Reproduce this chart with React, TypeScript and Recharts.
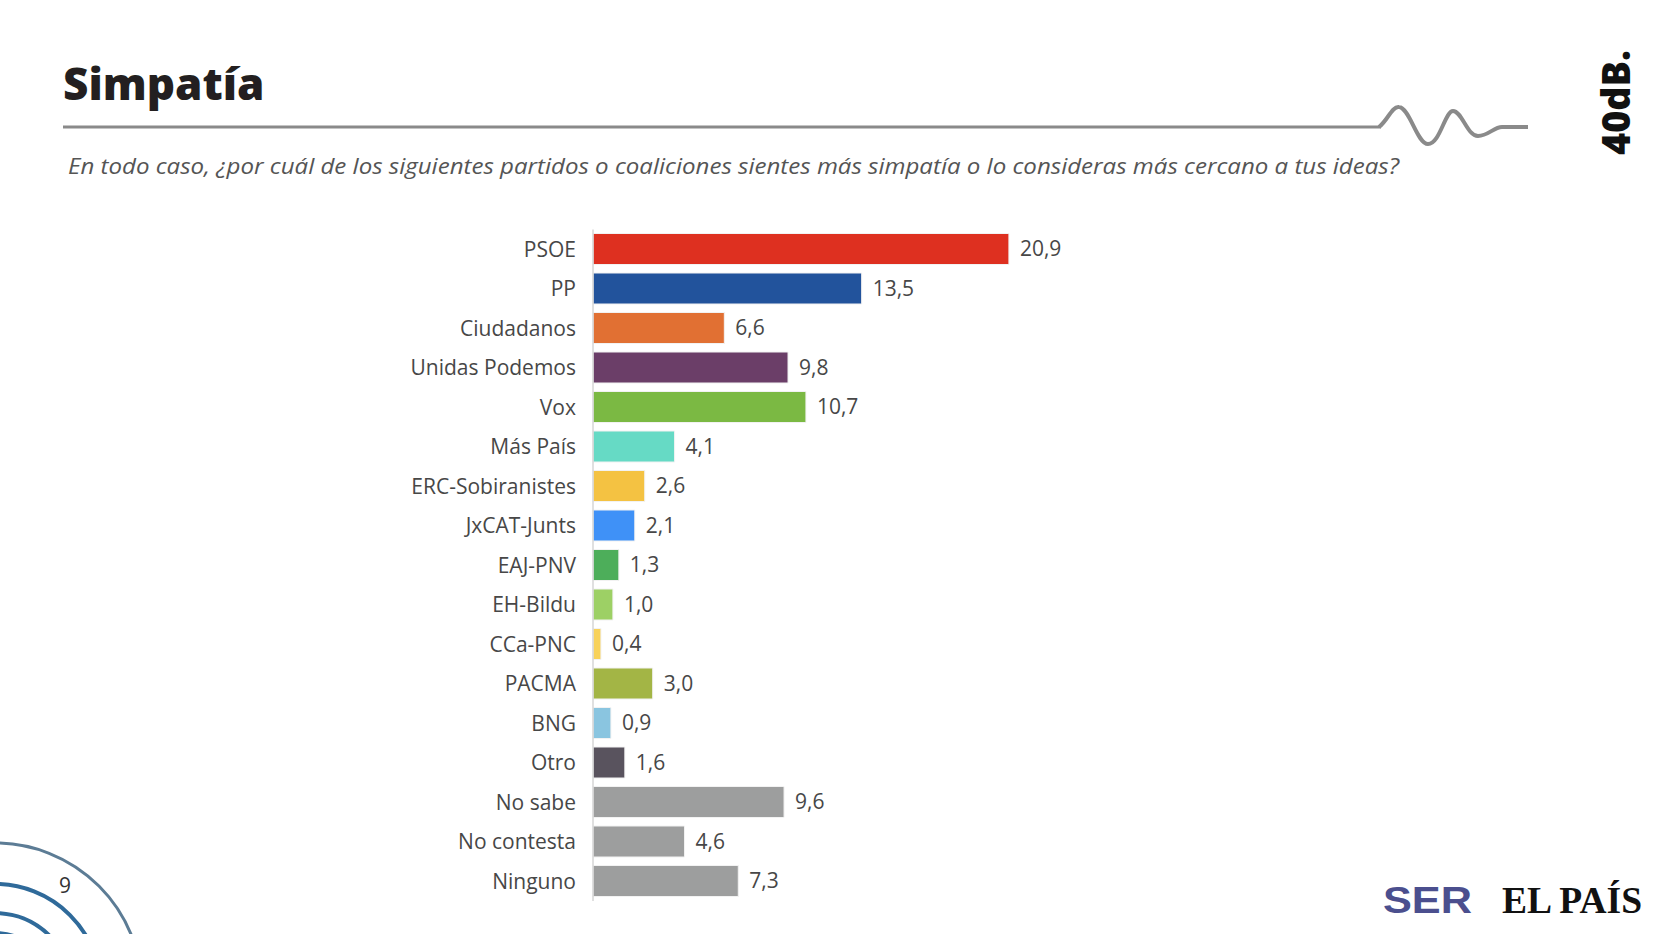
import React from 'react'
import { Bar, BarChart, Cell, LabelList, XAxis, YAxis } from 'recharts'

const parties = [
  'PSOE',
  'PP',
  'Ciudadanos',
  'Unidas Podemos',
  'Vox',
  'Más País',
  'ERC-Sobiranistes',
  'JxCAT-Junts',
  'EAJ-PNV',
  'EH-Bildu',
  'CCa-PNC',
  'PACMA',
  'BNG',
  'Otro',
  'No sabe',
  'No contesta',
  'Ninguno',
]

const values = [20.9, 13.5, 6.6, 9.8, 10.7, 4.1, 2.6, 2.1, 1.3, 1.0, 0.4, 3.0, 0.9, 1.6, 9.6, 4.6, 7.3]

const colors = [
  '#de3020',
  '#22539c',
  '#e17033',
  '#6b3e68',
  '#7bb943',
  '#66dac5',
  '#f4c242',
  '#3f91f7',
  '#4dae5a',
  '#9dd065',
  '#f8d25a',
  '#a3b545',
  '#8ac5e0',
  '#59535e',
  '#9d9e9e',
  '#9d9e9e',
  '#9d9e9e',
]

const data = parties.map((name, i) => ({ name, value: values[i] }))

const font = '"Open Sans", sans-serif'
const textColor = '#474747'

const fmt = (v: any) => Number(v).toFixed(1).replace('.', ',')

function Decorations() {
  return (
    <svg
      width={1668}
      height={934}
      style={{ position: 'absolute', left: 0, top: 0 }}
    >
      <text x={63} y={100} fontFamily={font} fontWeight={800} fontSize={44} fill='#231f20'>
        Simpatía
      </text>
      <line x1={63} y1={127} x2={1381} y2={127} stroke='#8a8a8a' strokeWidth={3} />
      <path
        d='M1379 127 C1388 120 1392 106 1399 107 C1410 108 1417 144 1428 144 C1440 144 1445 111 1453 111 C1462 111 1467 136 1478 136 C1488 136 1494 127 1502 127 L1528 127'
        fill='none'
        stroke='#8a8a8a'
        strokeWidth={4}
      />
      <text
        x={68}
        y={174}
        fontFamily={font}
        fontStyle='italic'
        fontSize={22}
        fill='#555555'
        textLength={1331}
        lengthAdjust='spacingAndGlyphs'
      >
        En todo caso, ¿por cuál de los siguientes partidos o coaliciones sientes más simpatía o lo consideras más cercano a tus ideas?
      </text>
      <text
        transform='translate(1630 155) rotate(-90)'
        fontFamily={font}
        fontWeight={800}
        fontSize={39}
        fill='#111111'
        textLength={105}
        lengthAdjust='spacingAndGlyphs'
      >
        40dB.
      </text>
      <circle cx={-5} cy={990} r={147} fill='none' stroke='#5c7c95' strokeWidth={3} />
      <circle cx={-5} cy={990} r={106} fill='none' stroke='#2f6a9a' strokeWidth={4} />
      <circle cx={-5} cy={990} r={77} fill='none' stroke='#2f6a9a' strokeWidth={4} />
      <circle cx={-5} cy={990} r={57} fill='none' stroke='#2f6a9a' strokeWidth={4} />
      <text x={65} y={893} fontFamily={font} fontSize={21} fill='#333333' textAnchor='middle'>
        9
      </text>
      <text
        x={1383}
        y={913}
        fontFamily='"Liberation Sans", sans-serif'
        fontWeight={700}
        fontSize={37}
        fill='#4b4f8e'
        textLength={89}
        lengthAdjust='spacingAndGlyphs'
      >
        SER
      </text>
      <text
        x={1502}
        y={913}
        fontFamily='"Liberation Serif", serif'
        fontWeight={700}
        fontSize={38}
        fill='#111111'
        textLength={140}
        lengthAdjust='spacingAndGlyphs'
      >
        EL PAÍS
      </text>
    </svg>
  )
}

export default function App() {
  return (
    <div
      style={{
        position: 'absolute',
        left: 0,
        top: 0,
        width: 1668,
        height: 934,
        background: '#ffffff',
        overflow: 'hidden',
      }}
    >
      <Decorations />
      <div style={{ position: 'absolute', left: 0, top: 0 }}>
        <BarChart
          width={1668}
          height={934}
          data={data}
          layout='vertical'
          margin={{ top: 229.5, right: 279, bottom: 33, left: 0 }}
        >
          <XAxis type='number' domain={[0, 40]} hide />
          <YAxis
            type='category'
            dataKey='name'
            width={593}
            tickLine={false}
            tickSize={0}
            tickMargin={17}
            axisLine={{ stroke: '#d6d6d6', strokeWidth: 1.5 }}
            tick={{ fill: textColor, fontSize: 21, fontFamily: font }}
            interval={0}
          />
          <Bar dataKey='value' barSize={31} isAnimationActive={false} stroke='#f2f2f2' strokeWidth={1}>
            {data.map((d, i) => (
              <Cell key={d.name} fill={colors[i]} />
            ))}
            <LabelList
              dataKey='value'
              position='right'
              offset={11}
              formatter={fmt}
              fill={textColor}
              fontSize={21}
              fontFamily={font}
            />
          </Bar>
        </BarChart>
      </div>
    </div>
  )
}
